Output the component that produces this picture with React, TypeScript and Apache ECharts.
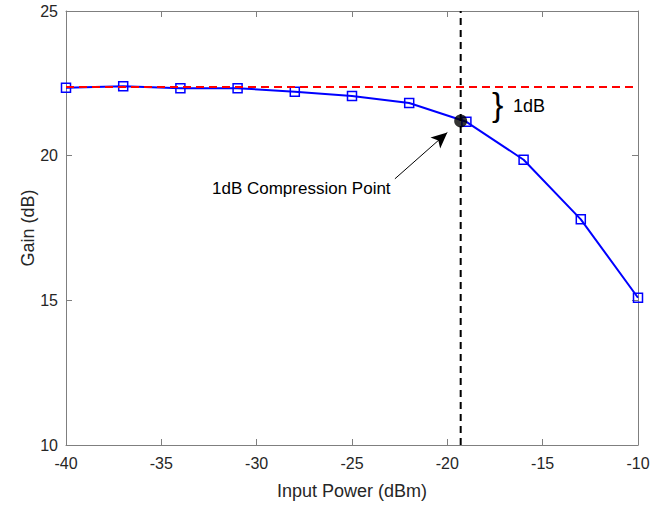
import React, { useEffect, useRef } from "react";
import * as echarts from "echarts";

const inputPower = [-40, -37, -34, -31, -28, -25, -22, -19, -16, -13, -10];
const gain = [22.35, 22.4, 22.33, 22.33, 22.21, 22.06, 21.82, 21.17, 19.86, 17.8, 15.09];
const referenceGain = 22.37;
const compressionPoint = [-19.3, 21.2];
const arrowStart = [-22.75, 19.2];
const arrowEnd = [-20.0, 20.8];
const xTicks = { min: -40, max: -10, interval: 5 };
const yTicks = { min: 10, max: 25, interval: 5 };

const FONT = "Liberation Sans, Arial, sans-serif";
const TEXT = "#262626";
const AXIS = "#7f7f7f";

export default function App() {
  const ref = useRef<HTMLDivElement>(null);
  useEffect(() => {
    if (!ref.current) return;
    const chart = echarts.init(ref.current, undefined, { renderer: "svg" });
    const axisCommon = {
      axisLine: { show: true, lineStyle: { color: AXIS, width: 1 } },
      axisTick: { show: true, inside: true, length: 6, lineStyle: { color: AXIS } },
      splitLine: { show: false },
    };
    chart.setOption({
      animation: false,
      backgroundColor: "#ffffff",
      textStyle: { fontFamily: FONT },
      grid: { left: 66, right: 32, top: 11, bottom: 58, containLabel: false },
      xAxis: [
        {
          type: "value",
          ...xTicks,
          ...axisCommon,
          position: "bottom",
          axisLabel: { color: TEXT, fontSize: 16, margin: 10, fontFamily: FONT },
          name: "Input Power (dBm)",
          nameLocation: "middle",
          nameGap: 37,
          nameMoveOverlap: false,
          nameTextStyle: { color: TEXT, fontSize: 18, fontFamily: FONT },
        },
        {
          type: "value",
          ...xTicks,
          ...axisCommon,
          position: "top",
          axisLabel: { show: false },
        },
      ],
      yAxis: [
        {
          type: "value",
          ...yTicks,
          ...axisCommon,
          position: "left",
          axisLabel: { color: TEXT, fontSize: 16, margin: 8, fontFamily: FONT },
          name: "Gain (dB)",
          nameLocation: "middle",
          nameGap: 29,
          nameMoveOverlap: false,
          nameTextStyle: { color: TEXT, fontSize: 18, fontFamily: FONT },
        },
        {
          type: "value",
          ...yTicks,
          ...axisCommon,
          position: "right",
          axisLabel: { show: false },
        },
      ],
      series: [
        {
          type: "line",
          data: inputPower.map((x, i) => [x, gain[i]]),
          symbol: "rect",
          symbolSize: 9,
          showAllSymbol: true,
          lineStyle: { color: "#0000ff", width: 2 },
          itemStyle: { color: "rgba(255,255,255,0)", borderColor: "#0000ff", borderWidth: 1.5 },
          z: 2,
        },
        {
          type: "line",
          data: [
            [xTicks.min, referenceGain],
            [xTicks.max, referenceGain],
          ],
          symbol: "none",
          lineStyle: { color: "#ff0000", width: 2, type: [8, 5] },
          z: 3,
        },
        {
          type: "line",
          data: [
            [compressionPoint[0], yTicks.min],
            [compressionPoint[0], yTicks.max],
          ],
          symbol: "none",
          lineStyle: { color: "#000000", width: 2, type: [7, 5] },
          z: 3,
          markLine: {
            silent: true,
            symbol: ["none", "arrow"],
            symbolSize: [11, 16],
            label: { show: false },
            lineStyle: { color: "#000000", width: 1, type: "solid" },
            data: [[{ coord: arrowStart }, { coord: arrowEnd }]],
          },
        },
        {
          type: "scatter",
          data: [compressionPoint],
          symbol: "circle",
          symbolSize: 13,
          itemStyle: { color: "#000000" },
          z: 5,
        },
      ],
      graphic: [
        {
          type: "text",
          left: 212,
          top: 180,
          style: { text: "1dB Compression Point", fontSize: 17, fill: "#000000", fontFamily: FONT },
        },
        {
          type: "text",
          left: 492,
          top: 87,
          style: { text: "}", fontSize: 34, fill: "#000000", fontFamily: FONT },
        },
        {
          type: "text",
          left: 513,
          top: 97,
          style: { text: "1dB", fontSize: 18, fill: "#000000", fontFamily: FONT },
        },
      ],
    });
    return () => chart.dispose();
  }, []);
  return <div ref={ref} style={{ width: 670, height: 505, position: "absolute", left: 0, top: 0 }} />;
}
